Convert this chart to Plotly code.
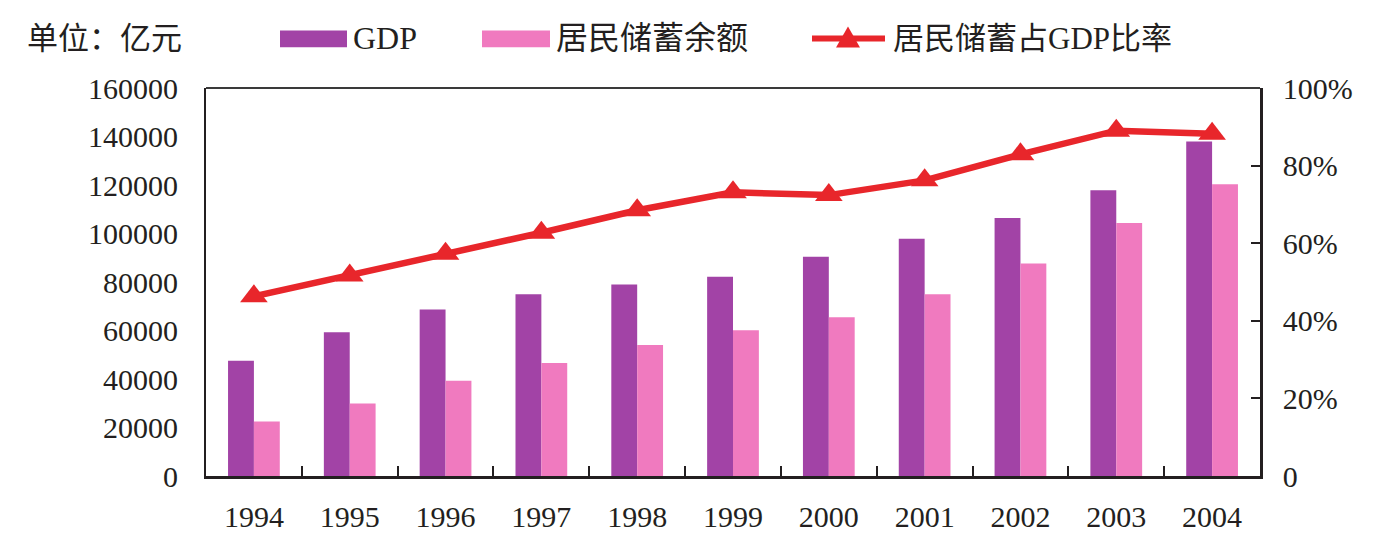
import plotly.graph_objects as go

years = ["1994", "1995", "1996", "1997", "1998", "1999", "2000", "2001", "2002", "2003", "2004"]
gdp = [47500, 59300, 68700, 74900, 79000, 82200, 90400, 97800, 106400, 117800, 137900]
savings = [22500, 29900, 39300, 46600, 54000, 60100, 65500, 74900, 87600, 104300, 120300]
ratio = [0.463, 0.517, 0.573, 0.627, 0.685, 0.731, 0.724, 0.762, 0.829, 0.890, 0.882]

series_names = ["GDP", "居民储蓄余额", "居民储蓄占GDP比率"]
left_ticks = [0, 20000, 40000, 60000, 80000, 100000, 120000, 140000, 160000]
right_ticks = [0, 0.2, 0.4, 0.6, 0.8, 1.0]
right_labels = ["0", "20%", "40%", "60%", "80%", "100%"]

FONT = "Liberation Serif, Times New Roman, Noto Sans CJK SC, serif"
C_GDP = "#A243A6"
C_SAV = "#F07ABF"
C_LINE = "#E8262B"
TXT = "#231F20"

W, H = 1375, 545
ML, MR, MT, MB = 206, 115, 88, 66
PW, PH = W - ML - MR, H - MT - MB


def px(x):
    return (x - ML) / PW


def py(y):
    return (H - MB - y) / PH


fig = go.Figure()
fig.add_trace(go.Bar(x=years, y=gdp, name=series_names[0], marker=dict(color=C_GDP, line=dict(width=0))))
fig.add_trace(go.Bar(x=years, y=savings, name=series_names[1], marker=dict(color=C_SAV, line=dict(width=0))))
fig.add_trace(go.Scatter(x=years, y=ratio, name=series_names[2], yaxis="y2", mode="lines+markers",
                         line=dict(color=C_LINE, width=6.5),
                         marker=dict(symbol="triangle-up", size=24, color=C_LINE)))

# custom legend (wide swatches like the original)
leg_y = 38
shapes = [
    dict(type="line", xref="paper", yref="paper", x0=0, x1=1, y0=1, y1=1,
         line=dict(color="#3a3a3a", width=2)),
    dict(type="rect", xref="paper", yref="paper", x0=px(280), x1=px(347), y0=py(47), y1=py(30),
         fillcolor=C_GDP, line=dict(width=0)),
    dict(type="rect", xref="paper", yref="paper", x0=px(482), x1=px(550), y0=py(47), y1=py(30),
         fillcolor=C_SAV, line=dict(width=0)),
    dict(type="line", xref="paper", yref="paper", x0=px(812), x1=px(885), y0=py(leg_y), y1=py(leg_y),
         line=dict(color=C_LINE, width=6)),
    dict(type="path", xref="paper", yref="paper", xsizemode="pixel", ysizemode="pixel",
         xanchor=px(848), yanchor=py(leg_y), path="M-12,-9 L12,-9 L0,12 Z",
         fillcolor=C_LINE, line=dict(width=0)),
]
annotations = [
    dict(text="单位：亿元", xref="paper", yref="paper", x=px(25), y=py(leg_y),
         xanchor="left", yanchor="middle", showarrow=False, font=dict(size=31, family=FONT, color=TXT)),
    dict(text=series_names[0], xref="paper", yref="paper", x=px(351), y=py(leg_y),
         xanchor="left", yanchor="middle", showarrow=False, font=dict(size=32, family=FONT, color=TXT)),
    dict(text=series_names[1], xref="paper", yref="paper", x=px(554), y=py(leg_y),
         xanchor="left", yanchor="middle", showarrow=False, font=dict(size=32, family=FONT, color=TXT)),
    dict(text=series_names[2], xref="paper", yref="paper", x=px(891), y=py(leg_y),
         xanchor="left", yanchor="middle", showarrow=False, font=dict(size=31, family=FONT, color=TXT)),
]

fig.update_layout(
    width=W, height=H,
    margin=dict(l=ML, r=MR, t=MT, b=MB),
    paper_bgcolor="white", plot_bgcolor="white",
    font=dict(family=FONT, size=30, color=TXT),
    barmode="group", bargap=0.46, bargroupgap=0,
    showlegend=False,
    xaxis=dict(type="category", range=[-0.5, 10.5], tickson="boundaries", ticks="inside", ticklen=10,
               tickwidth=2, tickcolor=TXT, showline=True, linecolor=TXT, linewidth=3,
               mirror=False, showgrid=False, tickfont=dict(size=30), ticklabelstandoff=12),
    yaxis=dict(range=[0, 160000], tickvals=left_ticks, tickformat="d", ticks="", showline=True,
               linecolor=TXT, linewidth=2, showgrid=False, zeroline=False,
               tickfont=dict(size=30), ticklabelstandoff=20),
    yaxis2=dict(range=[0, 1], overlaying="y", side="right", tickvals=right_ticks, ticktext=right_labels,
                ticks="inside", ticklen=9, tickwidth=2, tickcolor=TXT, showline=True,
                linecolor=TXT, linewidth=2.5, showgrid=False, zeroline=False,
                tickfont=dict(size=30), ticklabelstandoff=14),
    shapes=shapes,
    annotations=annotations,
)

fig.write_html("out.html")
